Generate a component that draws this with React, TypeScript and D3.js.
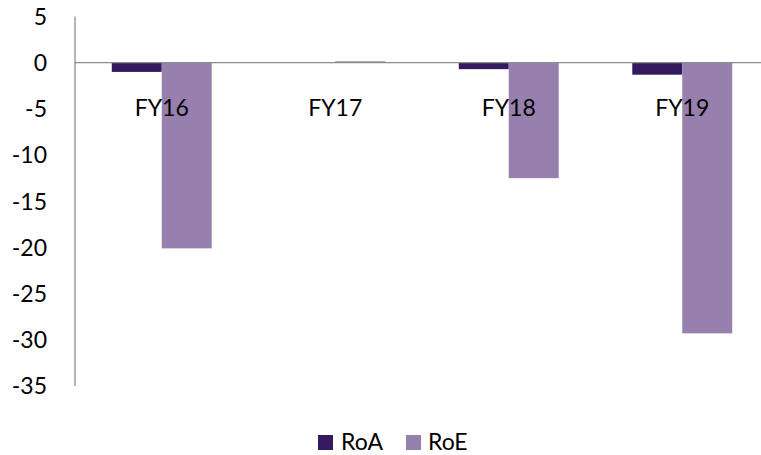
import React from 'react';
import * as d3 from 'd3';

const categories = ['FY16', 'FY17', 'FY18', 'FY19'];
const seriesNames = ['RoA', 'RoE'];
const roa = [-1.0, 0, -0.7, -1.3];
const roe = [-20.1, 0.15, -12.5, -29.3];
const yTicks = [5, 0, -5, -10, -15, -20, -25, -30, -35];
const colors = ['#341b60', '#9780ae'];

const W = 761;
const H = 455;
const FONT = "Lato, 'Open Sans', sans-serif";
const FS = 23;

const App: React.FC = () => {
  const x = d3.scaleBand<string>().domain(categories).range([75, 769]).paddingInner(0.424).paddingOuter(0.212);
  const inner = d3.scaleBand<string>().domain(seriesNames).range([0, x.bandwidth()]);
  const y = d3.scaleLinear().domain([-35, 5]).range([386, 16.5]);
  const values = [roa, roe];

  return (
    <svg width={W} height={H} style={{ position: 'absolute', left: 0, top: 0, background: '#fff' }}>
      {/* bars */}
      {seriesNames.map((s, si) =>
        categories.map((c, ci) => {
          const v = values[si][ci];
          if (v === 0) return null;
          return (
            <rect
              key={s + c}
              x={(x(c) ?? 0) + (inner(s) ?? 0)}
              y={y(Math.max(0, v))}
              width={inner.bandwidth()}
              height={Math.abs(y(v) - y(0))}
              fill={colors[si]}
            />
          );
        })
      )}

      {/* axes */}
      <line x1={75} x2={75} y1={y(5)} y2={y(-35)} stroke="#8c8c8c" strokeWidth={1.3} />
      <line x1={75} x2={W} y1={y(0)} y2={y(0)} stroke="#8c8c8c" strokeWidth={1.3} />

      {/* y tick labels */}
      {yTicks.map((t) => (
        <text key={t} x={47} y={y(t)} dy="0.36em" textAnchor="end" fontFamily={FONT} fontSize={FS} fill="#000">
          {t}
        </text>
      ))}

      {/* category labels */}
      {categories.map((c) => (
        <text key={c} x={(x(c) ?? 0) + x.bandwidth() / 2} y={108} dy="0.36em" textAnchor="middle" fontFamily={FONT} fontSize={FS} fill="#000">
          {c}
        </text>
      ))}

      {/* legend */}
      <g fontFamily={FONT} fontSize={FS}>
        <rect x={318} y={435} width={15} height={15} fill={colors[0]} />
        <text x={341} y={442} dy="0.36em">RoA</text>
        <rect x={406} y={435} width={15} height={15} fill={colors[1]} />
        <text x={428} y={442} dy="0.36em">RoE</text>
      </g>
    </svg>
  );
};

export default App;
